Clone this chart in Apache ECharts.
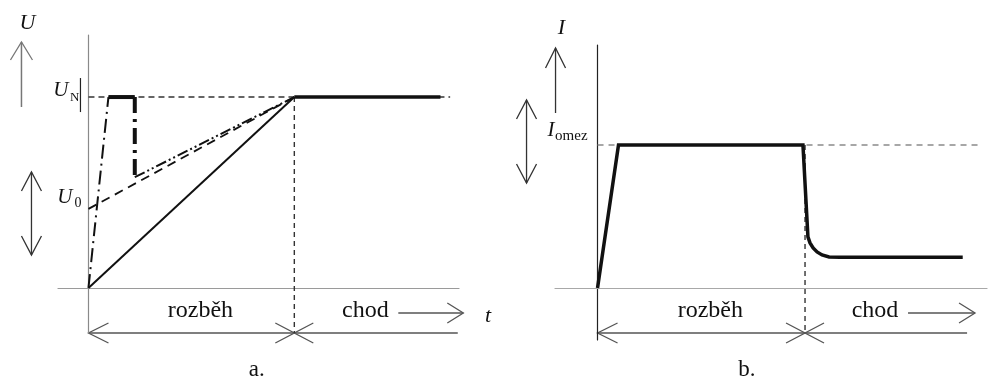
<!DOCTYPE html>
<html>
<head>
<meta charset="utf-8">
<script src="https://cdn.jsdelivr.net/npm/echarts@6/dist/echarts.min.js"></script>
<style>
  html, body { margin: 0; padding: 0; background: #fff; }
  #chart { width: 996px; height: 380px; }
</style>
</head>
<body>
<div id="chart"></div>
<script>
// ---- a) voltage during run-up (t = 1 is the end of run-up, U = 1 is U_N) ----
const rampU    = [[0, 0], [1, 1]];            // linear voltage ramp from zero
const runU     = [[1, 1], [1.71, 1]];         // steady run at nominal voltage
const nominalU = [[0, 1], [1.757, 1]];        // U_N reference level
const startU0  = [[0, 0.414], [1, 1]];        // ramp starting from U_0
const riseU    = [[0, 0], [0.097, 1]];        // fast rise (dash-dot)
const holdU    = [[0.097, 1], [0.225, 1]];    // short hold at U_N
const dropU    = [[0.225, 1], [0.225, 0.58]]; // step down
const climbU   = [[0.225, 0.58], [1, 1]];     // climb back to U_N
const switchU  = [[1, 1], [1, -0.236]];       // end of run-up marker

// ---- b) current during run-up (I = 1 is I_omez) ----
const currentI = [[0, 0], [0.101, 1], [0.99, 1], [1.014, 0.357], [1.024, 0.315],
                  [1.039, 0.28], [1.058, 0.252], [1.082, 0.231], [1.116, 0.217],
                  [1.169, 0.215], [1.76, 0.215]];
const limitI   = [[0, 1], [1.84, 1]];
const switchI  = [[1, 1], [1, -0.315]];

// axis level names and phase names
const levelNamesU = ['N', '0'];       // subscripts of U_N and U_0
const levelNameI  = 'omez';
const phaseNames  = ['rozběh', 'chod'];
const panelNames  = ['a.', 'b.'];

const FONT = '"Liberation Serif", "Times New Roman", serif';
const INK = '#111';

function seg(data, grid, width, type, color) {
  return {
    type: 'line', xAxisIndex: grid, yAxisIndex: grid, data: data,
    symbol: 'none', silent: true, animation: false, clip: false,
    lineStyle: { width: width, type: type || 'solid', color: color || INK, cap: 'butt', join: 'miter' }
  };
}

function axisPair(grid, xmin, xmax, ymin, ymax, xColor, yColor) {
  const common = { splitLine: { show: false }, axisTick: { show: false }, axisLabel: { show: false } };
  return {
    x: Object.assign({ type: 'value', gridIndex: grid, min: xmin, max: xmax,
      axisLine: { onZero: true, lineStyle: { color: xColor, width: 1.2 } } }, common),
    y: Object.assign({ type: 'value', gridIndex: grid, min: ymin, max: ymax,
      axisLine: { onZero: true, lineStyle: { color: yColor, width: 1.2 } } }, common)
  };
}

const axA = axisPair(0, -0.148, 1.8, -0.236, 1.325, '#9a9a9a', '#8a8a8a');
const axB = axisPair(1, -0.205, 1.877, -0.364, 1.699, '#a8a8a8', '#222');

const chart = echarts.init(document.getElementById('chart'), null, { renderer: 'canvas' });

chart.setOption({
  animation: false,
  backgroundColor: '#fff',
  grid: [
    { left: 58, top: 35, width: 401, height: 298 },
    { left: 555, top: 45, width: 432, height: 295 }
  ],
  xAxis: [axA.x, axB.x],
  yAxis: [axA.y, axB.y],
  series: [
    seg(nominalU, 0, 1.4, [6, 4], '#333'),
    seg(switchU, 0, 1.4, [5, 4], '#333'),
    seg(startU0, 0, 1.8, [9, 6], INK),
    seg(rampU, 0, 2, 'solid', INK),
    seg(runU, 0, 3.5, 'solid', INK),
    seg(riseU, 0, 2, [14, 5, 2, 5], INK),
    seg(holdU, 0, 4, 'solid', INK),
    seg(dropU, 0, 4, [16, 6, 3, 6], INK),
    seg(climbU, 0, 2, [11, 3, 2, 3, 2, 3], INK),

    seg(limitI, 1, 1.5, [6, 5], '#8a8a8a'),
    seg(switchI, 1, 1.4, [5, 4], '#333'),
    seg(currentI, 1, 3.5, 'solid', INK)
  ]
});

// ---------- annotations: axis arrows, level names, phase spans ----------
function P(g, t, v) { return chart.convertToPixel({ gridIndex: g }, [t, v]); }

function line(pts, color, w) {
  return { type: 'polyline', silent: true, shape: { points: pts },
           style: { stroke: color, lineWidth: w || 1.3, fill: null } };
}
// open chevron head at tip, pointing along (dx, dy)
function head(tip, dx, dy, len, half, color) {
  const bx = tip[0] - dx * len, by = tip[1] - dy * len;
  return line([[bx - dy * half, by + dx * half], tip, [bx + dy * half, by - dx * half]], color);
}
function text(str, x, y, size, opts) {
  opts = opts || {};
  return { type: 'text', silent: true,
    style: { text: str, x: x, y: y, fill: opts.fill || INK,
      font: (opts.italic ? 'italic ' : '') + size + 'px ' + FONT,
      textAlign: opts.align || 'center', textVerticalAlign: opts.valign || 'middle' } };
}

const g = [];

function panel(gi, o) {
  const O = P(gi, 0, 0);
  const S = P(gi, 1, 0);
  const xEnd = P(gi, o.spanEnd, 0)[0];
  const yAxisBottom = o.spanY;
  // time-span arrow line with heads at origin and crossing at switch
  g.push(line([[O[0], yAxisBottom], [xEnd, yAxisBottom]], '#555', 1.3));
  g.push(head([O[0], yAxisBottom], -1, 0, 20, 10, '#555'));
  g.push(head([S[0], yAxisBottom], 1, 0, 19, 10, '#555'));
  g.push(head([S[0], yAxisBottom], -1, 0, 19, 10, '#555'));
  // phase names
  g.push(text(phaseNames[0], (O[0] + S[0]) / 2 + o.rozOff, yAxisBottom - 22, 24));
  const chodX = S[0] + o.chodOff;
  g.push(text(phaseNames[1], chodX, yAxisBottom - 22, 24));
  // "chod" time arrow
  const ax0 = chodX + 33, ax1 = ax0 + o.arrowLen;
  g.push(line([[ax0, yAxisBottom - 20], [ax1, yAxisBottom - 20]], '#555', 1.3));
  g.push(head([ax1, yAxisBottom - 20], 1, 0, 16, 10, '#555'));
  // panel caption
  g.push(text(panelNames[gi], o.captionX, 370, 23));
}

// --- panel a ---
panel(0, { spanEnd: 1.794, spanY: 333, rozOff: 9, chodOff: 71, arrowLen: 65, captionX: P(0, 0.818, 0)[0] });
(function () {
  const O = P(0, 0, 0);
  const N = P(0, 0, 1);
  const Z = P(0, 0, 0.414);
  const ax = O[0] - 67;                     // up arrow column
  g.push(line([[ax, 107], [ax, 42]], '#777', 1.5));
  g.push(head([ax, 42], 0, -1, 18, 11, '#777'));
  const dx = O[0] - 57;                     // double arrow column
  g.push(line([[dx, 172], [dx, 255]], '#333', 1.3));
  g.push(head([dx, 172], 0, -1, 19, 10, '#333'));
  g.push(head([dx, 255], 0, 1, 19, 10, '#333'));
  g.push(text('U', ax + 6, 23, 22, { italic: true }));
  // U_N
  g.push(text('U', N[0] - 20, N[1] + 4, 21, { italic: true, align: 'right', valign: 'bottom' }));
  g.push(text(levelNamesU[0], N[0] - 9, N[1] + 7, 13, { align: 'right', valign: 'bottom' }));
  g.push(line([[N[0] - 8, N[1] - 19], [N[0] - 8, N[1] + 15]], '#222', 1.2));
  // U_0
  g.push(text('U', Z[0] - 16, Z[1] - 1, 21, { italic: true, align: 'right', valign: 'bottom' }));
  g.push(text(levelNamesU[1], Z[0] - 7, Z[1] + 1, 14, { align: 'right', valign: 'bottom' }));
  // t
  g.push(text('t', 488, 316, 22, { italic: true }));
})();

// --- panel b ---
panel(1, { spanEnd: 1.781, spanY: 333, rozOff: 9, chodOff: 70, arrowLen: 67, captionX: P(1, 0.72, 0)[0] });
(function () {
  const O = P(1, 0, 0);
  const L = P(1, 0, 1);
  const ax = O[0] - 42;
  g.push(line([[ax, 113], [ax, 48]], '#333', 1.3));
  g.push(head([ax, 48], 0, -1, 20, 10, '#333'));
  const dx = O[0] - 71;
  g.push(line([[dx, 100], [dx, 183]], '#333', 1.3));
  g.push(head([dx, 100], 0, -1, 19, 10, '#333'));
  g.push(head([dx, 183], 0, 1, 19, 10, '#333'));
  g.push(text('I', ax + 6, 28, 22, { italic: true }));
  // I_omez
  g.push(text('I', L[0] - 43, L[1] - 4, 21, { italic: true, align: 'right', valign: 'bottom' }));
  g.push(text(levelNameI, L[0] - 10, L[1] - 1, 15, { align: 'right', valign: 'bottom' }));
})();

chart.setOption({ graphic: g });
</script>
</body>
</html>
